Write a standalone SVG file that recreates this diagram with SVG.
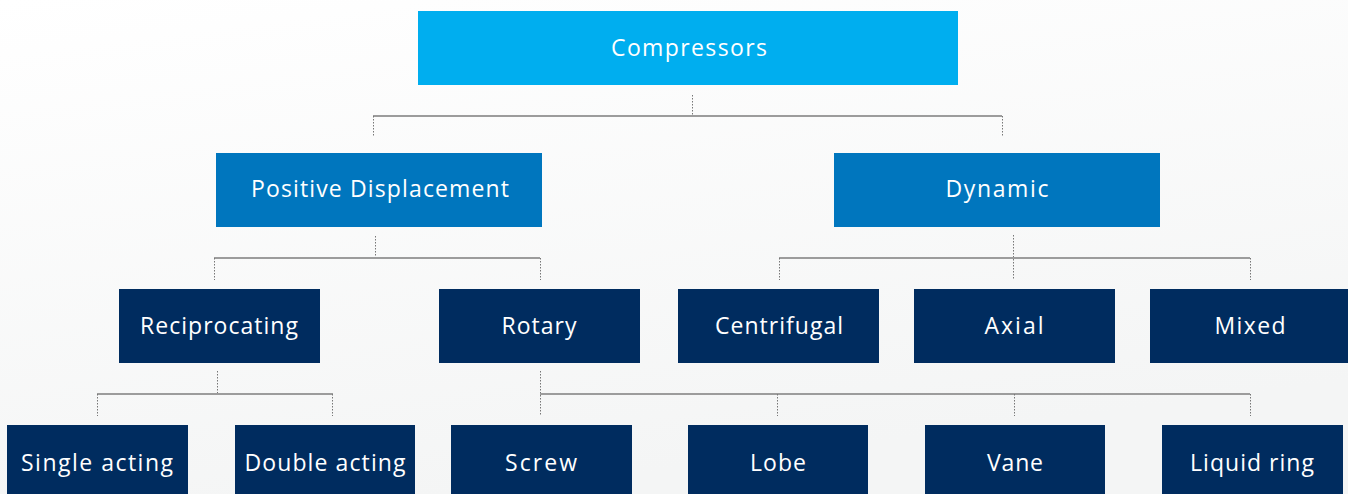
<svg xmlns="http://www.w3.org/2000/svg" width="1348" height="494" viewBox="0 0 1348 494">
<defs>
<linearGradient id="bg" x1="0" y1="0" x2="0.35" y2="1">
<stop offset="0" stop-color="#ffffff"/>
<stop offset="1" stop-color="#f4f5f5"/>
</linearGradient>
<style>
.t{font-family:"Open Sans","Liberation Sans",Arial,sans-serif;font-size:23px;fill:#ffffff;text-anchor:middle}
.c0{fill:#00aeef}
.c1{fill:#0076be}
.c2{fill:#002c5f}
.h{stroke:#9c9c9c;stroke-width:2;fill:none}
.v{stroke:#777777;stroke-width:1;stroke-dasharray:1.5 1.5;fill:none}
</style>
</defs>
<rect x="0" y="0" width="1348" height="494" fill="url(#bg)"/>
<g id="connectors">
<path class="v" d="M692.5 95V116"/>
<path class="h" d="M373 116H1002" stroke="#7a7a7a"/>
<path class="v" d="M373.5 116V137M1002.5 116V137"/>
<path class="v" d="M375.5 236V258"/>
<path class="h" d="M214 258H540"/>
<path class="v" d="M214.5 258V280M540.5 258V280"/>
<path class="v" d="M1013.5 235V280"/>
<path class="h" d="M779 258H1250"/>
<path class="v" d="M779.5 258V280M1250.5 258V280"/>
<path class="v" d="M217.5 371V393"/>
<path class="h" d="M97 394H333"/>
<path class="v" d="M97.5 394V416M332.5 394V416"/>
<path class="v" d="M540.5 371V416"/>
<path class="h" d="M540 394H1250"/>
<path class="v" d="M777.5 394V416M1014.5 394V416M1250.5 394V416"/>
</g>
<g id="compressors"><rect class="c0" x="418" y="11" width="540" height="74"/><text class="t" x="689" y="56" textLength="156">Compressors</text></g>
<g id="positive-displacement"><rect class="c1" x="216" y="153" width="326" height="74"/><text class="t" x="380" y="197" textLength="258">Positive Displacement</text></g>
<g id="dynamic"><rect class="c1" x="834" y="153" width="326" height="74"/><text class="t" x="997" y="197" textLength="103">Dynamic</text></g>
<g id="reciprocating"><rect class="c2" x="119" y="289" width="201" height="74"/><text class="t" x="219" y="334" textLength="158">Reciprocating</text></g>
<g id="rotary"><rect class="c2" x="439" y="289" width="201" height="74"/><text class="t" x="539" y="334" textLength="75">Rotary</text></g>
<g id="centrifugal"><rect class="c2" x="678" y="289" width="201" height="74"/><text class="t" x="779" y="334" textLength="128">Centrifugal</text></g>
<g id="axial"><rect class="c2" x="914" y="289" width="201" height="74"/><text class="t" x="1014" y="334" textLength="59">Axial</text></g>
<g id="mixed"><rect class="c2" x="1150" y="289" width="201" height="74"/><text class="t" x="1250" y="334" textLength="71">Mixed</text></g>
<g id="single-acting"><rect class="c2" x="7" y="425" width="181" height="74"/><text class="t" x="97" y="471" textLength="152">Single acting</text></g>
<g id="double-acting"><rect class="c2" x="235" y="425" width="180" height="74"/><text class="t" x="325" y="471" textLength="161">Double acting</text></g>
<g id="screw"><rect class="c2" x="451" y="425" width="181" height="74"/><text class="t" x="541" y="471" textLength="72">Screw</text></g>
<g id="lobe"><rect class="c2" x="688" y="425" width="180" height="74"/><text class="t" x="778" y="471" textLength="56">Lobe</text></g>
<g id="vane"><rect class="c2" x="925" y="425" width="180" height="74"/><text class="t" x="1015" y="471" textLength="56">Vane</text></g>
<g id="liquid-ring"><rect class="c2" x="1162" y="425" width="181" height="74"/><text class="t" x="1252" y="471" textLength="124">Liquid ring</text></g>
</svg>
